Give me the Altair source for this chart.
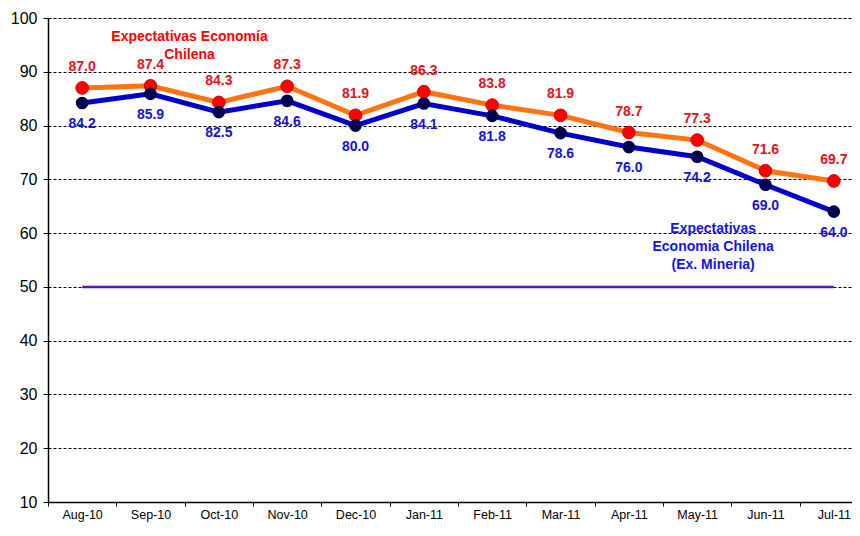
import altair as alt
import pandas as pd

months = ["Aug-10", "Sep-10", "Oct-10", "Nov-10", "Dec-10", "Jan-11",
          "Feb-11", "Mar-11", "Apr-11", "May-11", "Jun-11", "Jul-11"]
economia = [87.0, 87.4, 84.3, 87.3, 81.9, 86.3, 83.8, 81.9, 78.7, 77.3, 71.6, 69.7]
ex_mineria = [84.2, 85.9, 82.5, 84.6, 80.0, 84.1, 81.8, 78.6, 76.0, 74.2, 69.0, 64.0]
neutral = [50] * 12
y_ticks = [10, 20, 30, 40, 50, 60, 70, 80, 90, 100]

FONT = "Liberation Sans"

df = pd.DataFrame({"month": months, "eco": economia, "exm": ex_mineria, "neutral": neutral})

x = alt.X("month:N", sort=months,
          scale=alt.Scale(type="band", paddingInner=0, paddingOuter=0, range=[0, 820]),
          axis=alt.Axis(title=None, labelAngle=0, tickBand="extent", labelFont=FONT,
                        labelFontSize=12.5, labelColor="black", domainColor="black",
                        tickColor="black", tickSize=4, labelPadding=2, grid=False,
                        domainWidth=1.5))
yscale = alt.Scale(domain=[10, 100], nice=False, zero=False)

base = alt.Chart(df)

neutral_line = base.mark_line(color="#5E16A8", strokeWidth=2.5).encode(
    x=x,
    y=alt.Y("neutral:Q", scale=yscale,
            axis=alt.Axis(title=None, values=y_ticks, grid=True, gridColor="black",
                          gridDash=[3, 2], gridWidth=1, labelFont=FONT, labelFontSize=16,
                          labelColor="black", domainColor="black", tickColor="black",
                          tickSize=5, labelPadding=6, domainWidth=1.5)))

eco_line = base.mark_line(color="#FF7410", strokeWidth=5).encode(x=x, y=alt.Y("eco:Q", scale=yscale))
eco_pts = base.mark_point(filled=True, color="#FF0000", size=160, opacity=1,
                          stroke="#D00000", strokeWidth=1).encode(x=x, y=alt.Y("eco:Q", scale=yscale))
eco_txt = base.mark_text(color="#E3121B", font=FONT, fontSize=14, fontWeight="bold", dy=-21).encode(
    x=x, y=alt.Y("eco:Q", scale=yscale), text=alt.Text("eco:Q", format=".1f"))

exm_line = base.mark_line(color="#0000CC", strokeWidth=5).encode(x=x, y=alt.Y("exm:Q", scale=yscale))
exm_pts = base.mark_point(filled=True, color="#000050", size=160, opacity=1).encode(
    x=x, y=alt.Y("exm:Q", scale=yscale))
exm_txt = base.mark_text(color="#1414D0", font=FONT, fontSize=14, fontWeight="bold", dy=21).encode(
    x=x, y=alt.Y("exm:Q", scale=yscale), text=alt.Text("exm:Q", format=".1f"))

ann_red_df = pd.DataFrame({"month": ["Sep-10"], "yv": [96.5],
                           "label": [["Expectativas Economía", "Chilena"]]})
ann_blue_df = pd.DataFrame({"month": ["May-11"], "yv": [60.8],
                            "label": [["Expectativas", "Economia Chilena", "(Ex. Mineria)"]]})
ann_red = alt.Chart(ann_red_df).mark_text(
    color="#FF0000", font=FONT, fontSize=14, fontWeight="bold", dx=39,
    lineHeight=18, baseline="middle").encode(
    x=x, y=alt.Y("yv:Q", scale=yscale), text="label")
ann_blue = alt.Chart(ann_blue_df).mark_text(
    color="#1414E0", font=FONT, fontSize=14, fontWeight="bold", dx=16,
    lineHeight=18, baseline="middle").encode(
    x=x, y=alt.Y("yv:Q", scale=yscale), text="label")

chart = alt.layer(neutral_line, eco_line, exm_line, eco_pts, exm_pts, eco_txt, exm_txt,
                  ann_red, ann_blue).properties(
    width=804, height=484,
    autosize=alt.AutoSizeParams(type="none"),
    padding={"left": 40, "top": 10, "right": 0, "bottom": 20},
).configure_view(stroke=None).configure(background="white")

chart.save("out.html", embed_options={"renderer": "svg", "actions": False})
